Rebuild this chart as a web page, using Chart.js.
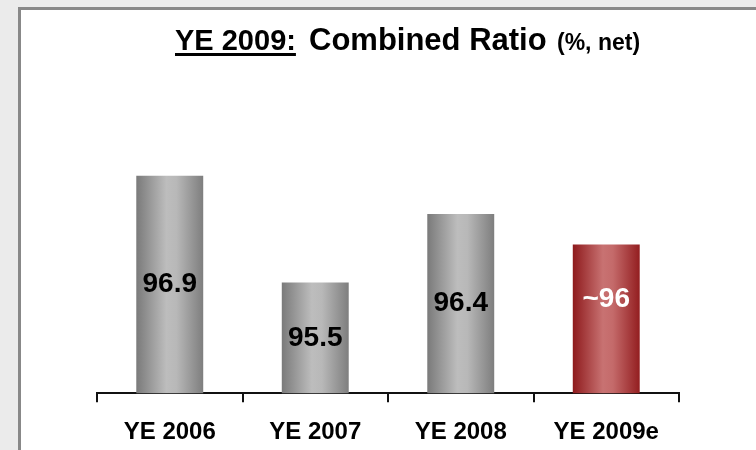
<!DOCTYPE html>
<html>
<head>
<meta charset="utf-8">
<script src="https://cdn.jsdelivr.net/npm/chart.js@4.4.1/dist/chart.umd.min.js"></script>
<style>
  html, body { margin: 0; padding: 0; }
  body { width: 756px; height: 450px; background: #ebebeb; position: relative; overflow: hidden; }
  #panel { position: absolute; left: 18px; top: 7px; width: 800px; height: 500px; background: #fff; border: 3px solid #888; box-sizing: border-box; }
  #wrap { position: absolute; left: 0; top: 0; width: 756px; height: 450px; overflow: hidden; }
</style>
</head>
<body>
<div id="panel"></div>
<div id="wrap"><canvas id="ratioChart" width="756" height="467"></canvas></div>
<script>
// Combined ratio, % net
const categories = ['YE 2006', 'YE 2007', 'YE 2008', 'YE 2009e'];
const ratioValues = [96.9, 95.5, 96.4, 96.0];
const valueLabels = ['96.9', '95.5', '96.4', '~96'];
const isEstimate = [false, false, false, true];

const FONT = '"Liberation Sans", Arial, sans-serif';

// cylinder-like shading across each bar
function barFill(ctx) {
    const chart = ctx.chart;
    const xScale = chart.scales.x;
    const est = isEstimate[ctx.dataIndex];
    if (!xScale || !chart.chartArea) return est ? '#b04848' : '#a8a8a8';
    const cx = xScale.getPixelForValue(ctx.dataIndex);
    const w = xScale.width / categories.length * 0.46;
    const g = chart.ctx.createLinearGradient(cx - w / 2, 0, cx + w / 2, 0);
    if (est) {
        g.addColorStop(0, '#8e1a1c');
        g.addColorStop(0.45, '#c87272');
        g.addColorStop(0.6, '#c46a6a');
        g.addColorStop(1, '#931e20');
    } else {
        g.addColorStop(0, '#7a7a7a');
        g.addColorStop(0.45, '#bdbdbd');
        g.addColorStop(0.6, '#b8b8b8');
        g.addColorStop(1, '#7e7e7e');
    }
    return g;
}

const titlePlugin = {
    id: 'titlePlugin',
    afterDraw(chart) {
        const c = chart.ctx;
        c.save();
        c.fillStyle = '#000';
        c.textBaseline = 'alphabetic';
        c.textAlign = 'left';
        const y = 50;
        c.font = 'bold 29px ' + FONT;
        c.fillText('YE 2009:', 175, y);
        const w1 = c.measureText('YE 2009:').width;
        c.fillRect(175, y + 3, w1, 3);
        c.font = 'bold 31px ' + FONT;
        c.fillText('Combined Ratio', 309, y);
        c.font = 'bold 23px ' + FONT;
        c.fillText('(%, net)', 557, y);
        c.restore();
    }
};

const valuePlugin = {
    id: 'valuePlugin',
    afterDatasetsDraw(chart) {
        const c = chart.ctx;
        const meta = chart.getDatasetMeta(0);
        const bottom = chart.chartArea.bottom;
        c.save();
        c.font = 'bold 28px ' + FONT;
        c.textAlign = 'center';
        c.textBaseline = 'middle';
        meta.data.forEach((bar, i) => {
            const mid = (bar.y + bottom) / 2;
            c.fillStyle = isEstimate[i] ? '#fff' : '#000';
            c.fillText(valueLabels[i], bar.x, isEstimate[i] ? mid - 20 : mid);
        });
        c.restore();
    }
};

new Chart(document.getElementById('ratioChart').getContext('2d'), {
    type: 'bar',
    data: {
        labels: categories,
        datasets: [{
            data: ratioValues,
            backgroundColor: barFill,
            borderWidth: 0,
            categoryPercentage: 1,
            barPercentage: 0.46
        }]
    },
    options: {
        responsive: false,
        animation: false,
        layout: { padding: { left: 97, right: 77, top: 88, bottom: 4 } },
        plugins: {
            legend: { display: false },
            title: { display: false },
            tooltip: { enabled: false }
        },
        scales: {
            x: {
                grid: {
                    offset: true,
                    drawOnChartArea: false,
                    color: '#111',
                    lineWidth: 2,
                    tickLength: 9
                },
                border: { display: true, color: '#111', width: 2 },
                ticks: {
                    color: '#000',
                    padding: 16,
                    font: { family: FONT, size: 24, weight: 'bold' }
                }
            },
            y: {
                display: false,
                min: 94.05,
                max: 98.05
            }
        }
    },
    plugins: [titlePlugin, valuePlugin]
});
</script>
</body>
</html>
